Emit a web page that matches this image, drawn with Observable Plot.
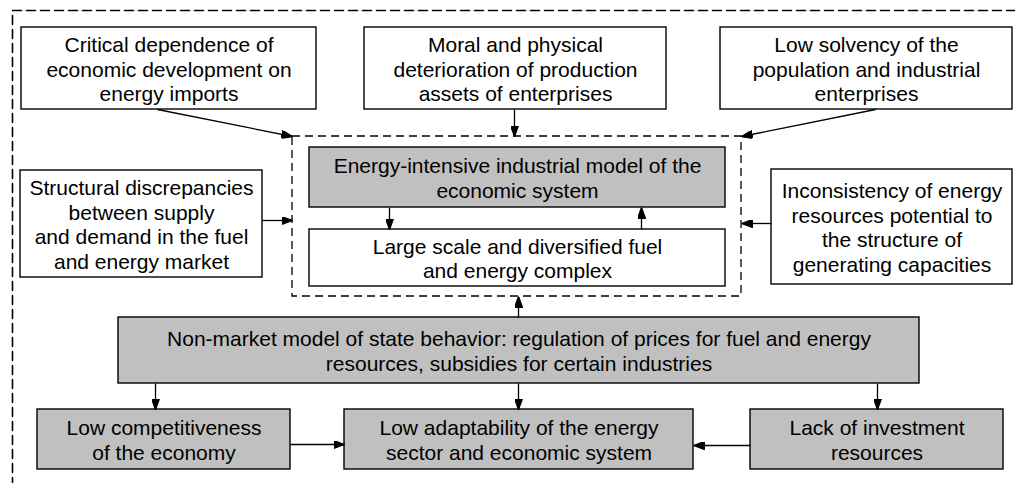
<!DOCTYPE html>
<html>
<head>
<meta charset="utf-8">
<script src="https://cdn.jsdelivr.net/npm/d3@7"></script>
<script src="https://cdn.jsdelivr.net/npm/@observablehq/plot@0.6"></script>
<style>
  html, body { margin: 0; padding: 0; background: #fff; }
  #chart svg { display: block; }
</style>
</head>
<body>
<div id="chart"></div>
<script>
// Box labels
const labels = [
  "Critical dependence of\neconomic development on\nenergy imports",
  "Moral and physical\ndeterioration of production\nassets of enterprises",
  "Low solvency of the\npopulation and industrial\nenterprises",
  "Structural discrepancies\nbetween supply\nand demand in the fuel\nand energy market",
  "Inconsistency of energy\nresources potential to\nthe structure of\ngenerating capacities",
  "Energy-intensive industrial model of the\neconomic system",
  "Large scale and diversified fuel\nand energy complex",
  "Non-market model of state behavior: regulation of prices for fuel and energy\nresources, subsidies for certain industries",
  "Low competitiveness\nof the economy",
  "Low adaptability of the energy\nsector and economic system",
  "Lack of investment\nresources"
];
// Box geometry (diagram coordinates)
const boxX1 = [21, 364, 720, 20, 771, 309, 309, 118, 37, 344, 750];
const boxX2 = [316, 666, 1012, 262, 1012, 725, 725, 919, 290, 693, 1003];
const boxY1 = [27, 27, 27, 170, 169, 147, 229, 317, 409, 409, 409];
const boxY2 = [109, 109, 109, 277, 284, 207, 286, 383, 469, 469, 469];
const boxKind = ["factor", "factor", "factor", "factor", "factor", "core", "complex", "core", "core", "core", "core"];

// Arrows (from -> to)
const arrX1 = [157, 514, 875, 262, 771, 389, 641, 518, 155, 518, 877, 290, 750];
const arrY1 = [109, 109, 109, 220, 223, 207, 229, 317, 383, 383, 383, 444, 445];
const arrX2 = [292, 514, 741, 292, 741, 389, 641, 518, 155, 518, 877, 344, 693];
const arrY2 = [136, 136, 136, 220, 223, 229, 207, 296, 409, 409, 409, 444, 445];

// Dashed frames
const innerFrame = {x1: 292, x2: 741, y1: 136, y2: 296};
const outerFrameX = [1015, 12, 12];
const outerFrameY = [10, 10, 483];

const boxes = labels.map((label, i) => ({
  label, x1: boxX1[i], x2: boxX2[i], y1: boxY1[i], y2: boxY2[i], kind: boxKind[i]
}));
const arrows = arrX1.map((_, i) => ({x1: arrX1[i], y1: arrY1[i], x2: arrX2[i], y2: arrY2[i]}));
const outer = outerFrameX.map((x, i) => ({x, y: outerFrameY[i]}));

const fillFor = k => (k === "core" ? "#c0c0c0" : "#ffffff");

function filledArrow(color, context) {
  return d3.create("svg:marker")
    .attr("viewBox", "-11 -4 11 8")
    .attr("markerUnits", "userSpaceOnUse")
    .attr("markerWidth", 11)
    .attr("markerHeight", 8)
    .attr("refX", 0)
    .attr("refY", 0)
    .attr("orient", "auto")
    .call(m => m.append("path").attr("d", "M-11,-4L0,0L-11,4Z").attr("fill", "#000"))
    .node();
}

const chart = Plot.plot({
  width: 1015,
  height: 483,
  margin: 0,
  style: {fontFamily: "'Liberation Sans', Arial, sans-serif", background: "#fff"},
  x: {domain: [0, 1015], range: [0, 1015], axis: null},
  y: {domain: [0, 483], range: [0, 483], axis: null},
  marks: [
    Plot.line(outer, {x: "x", y: "y", stroke: "#000", strokeWidth: 1.6, strokeDasharray: "9,5", curve: "linear"}),
    Plot.rect([innerFrame], {x1: "x1", x2: "x2", y1: "y1", y2: "y2", fill: "none", stroke: "#000", strokeWidth: 1.3, strokeDasharray: "8,5"}),
    Plot.rect(boxes, {x1: "x1", x2: "x2", y1: "y1", y2: "y2", fill: d => fillFor(d.kind), stroke: "#000", strokeWidth: 1.4}),
    Plot.link(arrows, {x1: "x1", y1: "y1", x2: "x2", y2: "y2", stroke: "#000", strokeWidth: 1.3, markerEnd: filledArrow}),
    Plot.text(boxes, {
      x: d => (d.x1 + d.x2) / 2,
      y: d => (d.y1 + d.y2) / 2,
      text: "label",
      fontSize: 21,
      lineHeight: 1.19,
      lineAnchor: "middle",
      textAnchor: "middle",
      fill: "#000"
    })
  ]
});
document.getElementById("chart").appendChild(chart);
</script>
</body>
</html>
